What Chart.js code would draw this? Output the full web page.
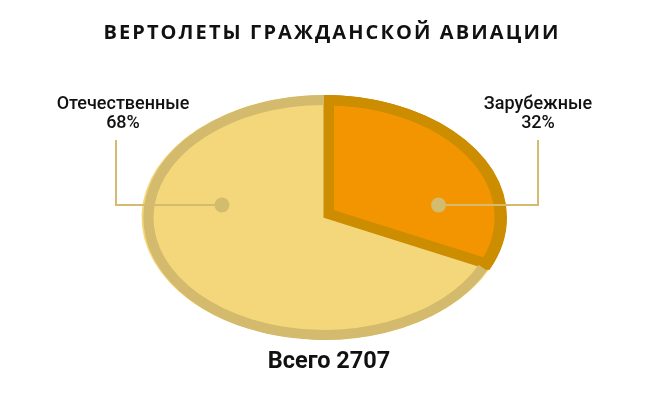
<!DOCTYPE html>
<html><head><meta charset="utf-8">
<script src="https://cdn.jsdelivr.net/npm/chart.js@4.4.1/dist/chart.umd.min.js"></script>
<style>html,body{margin:0;padding:0;background:#fff}#wrap{width:660px;height:400px}</style>
</head><body><div id="wrap"><canvas id="c" width="660" height="400"></canvas></div>
<script>
const titleText = 'ВЕРТОЛЕТЫ ГРАЖДАНСКОЙ АВИАЦИИ';
const categories = ['Отечественные', 'Зарубежные'];
const shares = [68, 32];
const percentLabels = ['68%', '32%'];
const totalLabel = 'Всего 2707';
const fillColors = ['#F4D77B', '#F39500'];
const borderColors = ['#D3BA6C', '#CC8D00'];

const SX = 1.494;
const R = 122.5;      // outer radius (vertical)
const RIM = 10;       // rim thickness

const ellipsePlugin = {
  id: 'ellipse',
  beforeDatasetsDraw(chart) {
    const ctx = chart.ctx;
    const arc = chart.getDatasetMeta(1).data[0];
    ctx.save();
    ctx.translate(arc.x, arc.y);
    ctx.scale(SX, 1);
    ctx.translate(-arc.x, -arc.y);
    const dpr = chart.currentDevicePixelRatio;
    const orig = CanvasRenderingContext2D.prototype.stroke;
    ctx.stroke = function (...a) {
      this.save();
      this.setTransform(dpr, 0, 0, dpr, 0, 0);
      orig.apply(this, a);
      this.restore();
    };
  },
  afterDatasetsDraw(chart) {
    const ctx = chart.ctx;
    delete ctx.stroke;
    ctx.restore();
    const arc = chart.getDatasetMeta(1).data[0];
    const cx = arc.x, cy = arc.y, r = arc.outerRadius;
    const dotY = cy - 0.102 * r;
    const dots = [
      { x: cx - 0.833 * r, lineX: 116 },
      { x: cx + 0.935 * r, lineX: 538 }
    ];
    ctx.save();
    ctx.strokeStyle = '#D4BB6E';
    ctx.lineWidth = 2;
    dots.forEach(d => {
      ctx.beginPath();
      ctx.moveTo(d.x, dotY);
      ctx.lineTo(d.lineX, dotY);
      ctx.lineTo(d.lineX, 140);
      ctx.stroke();
    });
    ctx.fillStyle = '#D3BC6D';
    dots.forEach(d => {
      ctx.beginPath();
      ctx.arc(d.x, dotY, 7.5, 0, Math.PI * 2);
      ctx.fill();
    });
    ctx.restore();
  },
  afterDraw(chart) {
    const ctx = chart.ctx;
    ctx.save();
    ctx.fillStyle = '#111';
    ctx.textAlign = 'center';
    ctx.textBaseline = 'middle';
    ctx.font = 'bold 20px "Open Sans"';
    ctx.letterSpacing = '2.1px';
    ctx.fillText(titleText, 332, 33);
    ctx.letterSpacing = '0px';
    ctx.font = '500 18px Roboto';
    const labelX = [123, 538];
    for (let i = 0; i < categories.length; i++) {
      ctx.fillText(categories[i], labelX[i], 104);
      ctx.fillText(percentLabels[i], labelX[i], 123);
    }
    ctx.font = 'bold 23.5px Roboto';
    ctx.fillText(totalLabel, 329, 362);
    ctx.restore();
  }
};

new Chart(document.getElementById('c'), {
  type: 'pie',
  data: {
    labels: categories,
    datasets: [{
      // outer rim (zero-thickness ring, stroked)
      data: shares,
      backgroundColor: 'rgba(0,0,0,0)',
      borderColor: borderColors,
      borderWidth: RIM,
      borderAlign: 'center',
      weight: 0,
      radius: R - RIM / 2,
      order: 0,
      clip: false
    }, {
      // slices
      data: shares,
      backgroundColor: fillColors,
      borderColor: ['rgba(0,0,0,0)', borderColors[1]],
      borderWidth: [0, RIM],
      borderAlign: 'inner',
      weight: 1,
      radius: R,
      order: 1,
      clip: false
    }]
  },
  options: {
    responsive: false,
    animation: false,
    rotation: 115.2,
    layout: { padding: { left: 0, right: 12, top: 35, bottom: 0 } },
    plugins: { legend: { display: false }, tooltip: { enabled: false } },
    events: []
  },
  plugins: [ellipsePlugin]
});
</script>
</body></html>
